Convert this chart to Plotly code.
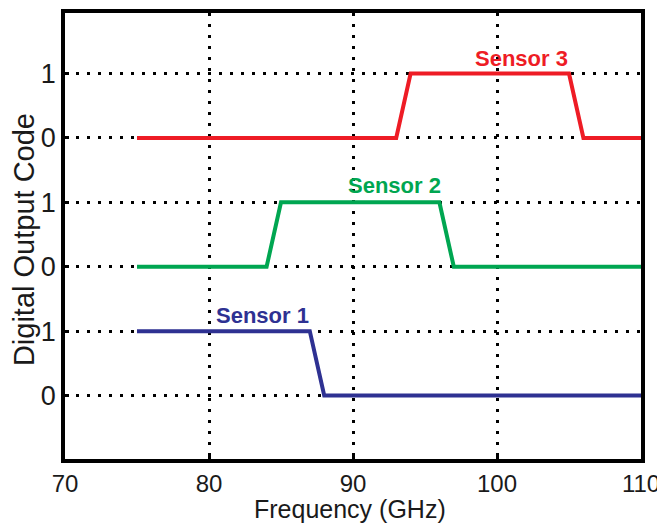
import plotly.graph_objects as go

# Data
freq_s1 = [75, 87, 88, 110]
code_s1 = [1, 1, 0, 0]
freq_s2 = [75, 84, 85, 96, 97, 110]
code_s2 = [0, 0, 1, 1, 0, 0]
freq_s3 = [75, 93, 94, 105, 106, 110]
code_s3 = [0, 0, 1, 1, 0, 0]
offsets = [0, 2, 4]
names = ["Sensor 1", "Sensor 2", "Sensor 3"]
colors = ["#2E3192", "#00A651", "#EE1C25"]
label_pos = [(83.7, 1.25), (92.9, 3.26), (101.7, 5.23)]
x_ticks = [70, 80, 90, 100, 110]
y_ticks = [0, 1, 2, 3, 4, 5]
y_ticktext = ["0", "1", "0", "1", "0", "1"]
x_title = "Frequency (GHz)"
y_title = "Digital Output Code"

FONT = "Liberation Sans, Arial, sans-serif"
TXT = "#1a1a1a"

fig = go.Figure()
series = [(freq_s1, code_s1), (freq_s2, code_s2), (freq_s3, code_s3)]
for (xs, ys), off, c, n in zip(series, offsets, colors, names):
    fig.add_trace(go.Scatter(x=xs, y=[v + off for v in ys], mode="lines",
                             line=dict(color=c, width=4), name=n,
                             showlegend=False))

for (lx, ly), c, n in zip(label_pos, colors, names):
    fig.add_annotation(x=lx, y=ly, text="<b>" + n + "</b>", showarrow=False,
                       font=dict(family=FONT, size=22, color=c),
                       xanchor="center", yanchor="middle")

# axis titles as paper-positioned annotations
fig.add_annotation(xref="paper", yref="paper", x=0.495, y=-0.113,
                   text=x_title, showarrow=False, xanchor="center", yanchor="middle",
                   font=dict(family=FONT, size=25, color=TXT))
fig.add_annotation(xref="paper", yref="paper", x=-0.071, y=0.491,
                   text=y_title, showarrow=False, xanchor="center", yanchor="middle",
                   textangle=-90, font=dict(family=FONT, size=29, color=TXT))

fig.update_layout(
    width=657, height=516,
    margin=dict(l=57, r=24, t=1, b=65),
    paper_bgcolor="white", plot_bgcolor="white",
    font=dict(family=FONT, color=TXT),
)
fig.update_xaxes(range=[70, 110], tickvals=x_ticks,
                 showgrid=True, gridcolor="black", griddash="3px,8px", gridwidth=2.5,
                 showline=True, linecolor="black", linewidth=3.5, mirror=True,
                 ticks="inside", ticklen=4, tickwidth=2.5, tickcolor="black",
                 tickfont=dict(size=24, family=FONT, color=TXT),
                 zeroline=False)
fig.update_yaxes(range=[-0.985, 5.94], tickvals=y_ticks, ticktext=y_ticktext,
                 showgrid=True, gridcolor="black", griddash="3px,8px", gridwidth=2.5,
                 showline=True, linecolor="black", linewidth=3.5, mirror=True,
                 ticks="inside", ticklen=4, tickwidth=2.5, tickcolor="black",
                 tickfont=dict(size=27, family=FONT, color=TXT),
                 zeroline=False)

fig.write_html("out.html")
